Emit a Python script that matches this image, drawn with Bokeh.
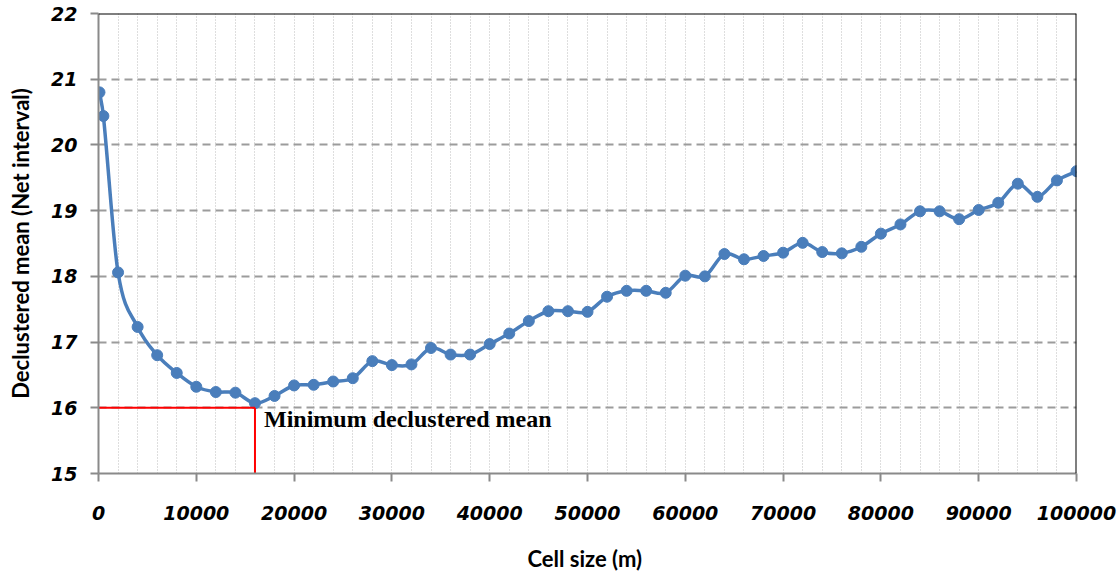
from bokeh.plotting import figure
from bokeh.models import (FixedTicker, SingleIntervalTicker, Span,
                          BasicTickFormatter, ColumnDataSource)
from bokeh.core.properties import value
from bokeh.embed import file_html
from bokeh.resources import INLINE

# Cell size (m) used for declustering
cell_size = [100, 500, 2000, 4000, 6000, 8000, 10000, 12000, 14000, 16000,
             18000, 20000, 22000, 24000, 26000, 28000, 30000, 32000, 34000,
             36000, 38000, 40000, 42000, 44000, 46000, 48000, 50000, 52000,
             54000, 56000, 58000, 60000, 62000, 64000, 66000, 68000, 70000,
             72000, 74000, 76000, 78000, 80000, 82000, 84000, 86000, 88000,
             90000, 92000, 94000, 96000, 98000, 100000]

# Declustered mean of the net interval for each cell size
declustered_mean = [20.80, 20.44, 18.06, 17.23, 16.80, 16.53, 16.32, 16.24,
                    16.23, 16.07, 16.18, 16.34, 16.35, 16.40, 16.45, 16.71,
                    16.65, 16.66, 16.91, 16.81, 16.81, 16.97, 17.13, 17.32,
                    17.47, 17.47, 17.46, 17.69, 17.78, 17.78, 17.75, 18.01,
                    18.00, 18.34, 18.26, 18.31, 18.36, 18.51, 18.37, 18.35,
                    18.45, 18.65, 18.79, 18.99, 18.99, 18.87, 19.01, 19.12,
                    19.41, 19.21, 19.46, 19.60]

x_ticks = [0, 10000, 20000, 30000, 40000, 50000, 60000, 70000, 80000,
           90000, 100000]
y_ticks = [15, 16, 17, 18, 19, 20, 21, 22]
reference_level = 16
annotation = "Minimum declustered mean"

series_color = "#4a7ebb"
axis_gray = "#8a8a8a"

p = figure(width=1120, height=576,
           x_range=(x_ticks[0], x_ticks[-1]), y_range=(y_ticks[0], y_ticks[-1]),
           output_backend="svg", toolbar_location=None,
           min_border_left=98, min_border_right=44,
           min_border_top=13, min_border_bottom=103,
           background_fill_color="white", border_fill_color="white")
p.outline_line_color = None

# Axes
p.xaxis.ticker = FixedTicker(ticks=x_ticks)
p.xaxis.formatter = BasicTickFormatter(use_scientific=False)
p.yaxis.ticker = FixedTicker(ticks=y_ticks)

for ax in (p.xaxis[0], p.yaxis[0]):
    ax.axis_line_color = axis_gray
    ax.axis_line_width = 2
    ax.major_tick_line_color = axis_gray
    ax.major_tick_line_width = 2
    ax.major_tick_in = 0
    ax.major_tick_out = 8
    ax.minor_tick_in = 0
    ax.minor_tick_out = 0
    ax.major_label_text_font = "DejaVu Sans"
    ax.major_label_text_font_style = "bold italic"
    ax.major_label_text_font_size = "19px"
    ax.major_label_text_color = "black"
    ax.axis_label_text_font = "Lato"
    ax.axis_label_text_font_style = "bold"
    ax.axis_label_text_font_size = "22px"
    ax.axis_label_text_color = "black"

p.xaxis.axis_label = "Cell size  (m)"
p.xaxis.major_label_standoff = 24
p.xaxis.axis_label_standoff = 22
p.yaxis.axis_label = "Declustered mean (Net interval)"
p.yaxis.major_label_standoff = 13
p.yaxis.axis_label_standoff = 14

# Grid: dashed horizontal lines, fine dotted verticals every 2000 m
p.ygrid.ticker = FixedTicker(ticks=y_ticks)
p.ygrid.grid_line_color = "#9c9c9c"
p.ygrid.grid_line_width = 2
p.ygrid.grid_line_dash = "8 5"
p.xgrid.ticker = SingleIntervalTicker(interval=2000, num_minor_ticks=0)
p.xgrid.grid_line_color = "#bdbdbd"
p.xgrid.grid_line_width = 1
p.xgrid.grid_line_dash = "1 2"

# Dark frame on the top and right edges
p.add_layout(Span(location=y_ticks[-1], dimension="width",
                  line_color="black", line_width=2))
p.add_layout(Span(location=x_ticks[-1], dimension="height",
                  line_color="black", line_width=2))

# Smoothed series line: cubic Hermite segments drawn as Bezier curves
n = len(cell_size)
slopes = []
for i in range(n):
    lo = max(i - 1, 0)
    hi = min(i + 1, n - 1)
    slopes.append((declustered_mean[hi] - declustered_mean[lo]) /
                  (cell_size[hi] - cell_size[lo]))
seg = dict(x0=[], y0=[], x1=[], y1=[], cx0=[], cy0=[], cx1=[], cy1=[])
for i in range(n - 1):
    h = cell_size[i + 1] - cell_size[i]
    seg["x0"].append(cell_size[i])
    seg["y0"].append(declustered_mean[i])
    seg["x1"].append(cell_size[i + 1])
    seg["y1"].append(declustered_mean[i + 1])
    seg["cx0"].append(cell_size[i] + h / 3)
    seg["cy0"].append(declustered_mean[i] + slopes[i] * h / 3)
    seg["cx1"].append(cell_size[i + 1] - h / 3)
    seg["cy1"].append(declustered_mean[i + 1] - slopes[i + 1] * h / 3)
p.bezier(x0="x0", y0="y0", x1="x1", y1="y1", cx0="cx0", cy0="cy0",
         cx1="cx1", cy1="cy1", source=ColumnDataSource(seg),
         line_color=series_color, line_width=3.5)

p.scatter(cell_size, declustered_mean, size=11, marker="circle",
          fill_color=series_color, line_color=series_color)

# Minimum marker lines and label
i_min = declustered_mean.index(min(declustered_mean))
x_min = cell_size[i_min]
p.segment(x0=[x_ticks[0], x_min], y0=[reference_level, reference_level],
          x1=[x_min, x_min], y1=[reference_level, y_ticks[0]],
          line_color="#ff0000", line_width=2)
p.text(x=[x_min], y=[reference_level], text=[annotation],
       text_font=value("Liberation Serif"), text_font_style="bold",
       text_font_size="24px", text_color="black",
       text_baseline="alphabetic", x_offset=9, y_offset=11)

open("out.html", "w").write(file_html(p, INLINE))
